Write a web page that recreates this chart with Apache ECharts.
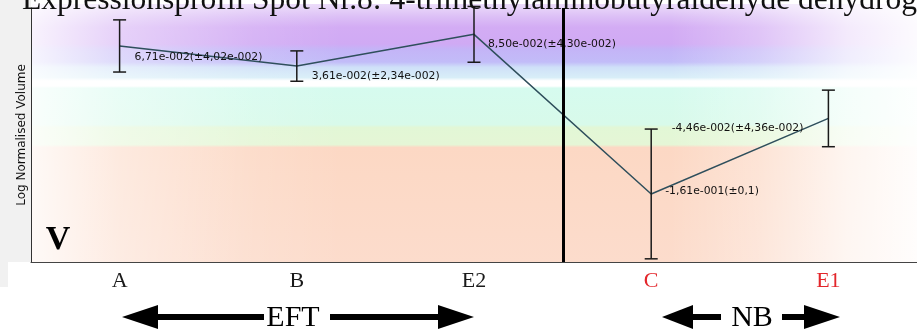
<!DOCTYPE html>
<html>
<head>
<meta charset="utf-8">
<script src="https://cdn.jsdelivr.net/npm/echarts@6/dist/echarts.min.js"></script>
<style>
html,body{margin:0;padding:0;background:#fff;}
#chart{width:917px;height:333px;}
</style>
</head>
<body>
<div id="chart"></div>
<script>
// ---- data ----
const categories = ['A', 'B', 'E2', 'C', 'E1'];
const categoryColors = ['#1a1a1a', '#1a1a1a', '#1a1a1a', '#e3262b', '#e3262b'];
const means = [0.0671, 0.0361, 0.0850, -0.161, -0.0446];
const errors = [0.0402, 0.0234, 0.0430, 0.1, 0.0436];
const valueLabels = ['6,71e-002(±4,02e-002)', '3,61e-002(±2,34e-002)', '8,50e-002(±4,30e-002)', '-1,61e-001(±0,1)', '-4,46e-002(±4,36e-002)'];
const titleText = 'Expressionsprofil Spot Nr.8: 4-trimethylaminobutyraldehyde dehydrogenase';
const yAxisName = 'Log Normalised Volume';
const groupNames = ['EFT', 'NB'];
const panelLetter = 'V';

// ---- layout / style ----
const labelOffsets = [[15, 11, 'left'], [15, 10, 'left'], [14, 10, 'left'], [14, -3, 'left'], [-25, 10, 'right']];
const chart = echarts.init(document.getElementById('chart'), null, {renderer: 'canvas'});

const G_LEFT = 31, G_TOP = 8, G_H = 254, G_W = 897;

function arrow(tipX, baseX, endX, cy) {
  const shaftX = Math.min(baseX, endX);
  const shaftW = Math.abs(endX - baseX);
  return [
    {type: 'polygon', z: 50, shape: {points: [[tipX, cy], [baseX, cy - 12], [baseX, cy + 12]]}, style: {fill: '#000'}},
    {type: 'rect', z: 50, shape: {x: shaftX, y: cy - 3, width: shaftW + 1, height: 6}, style: {fill: '#000'}}
  ];
}

const graphics = [
  // light gray left strip
  {type: 'rect', z: -20, shape: {x: 0, y: 0, width: G_LEFT, height: G_TOP + G_H}, style: {fill: '#f1f1f1'}},
  {type: 'rect', z: -20, shape: {x: 0, y: G_TOP + G_H, width: 8, height: 25}, style: {fill: '#f1f1f1'}},
  // vertical colour bands
  {type: 'rect', z: -15, shape: {x: G_LEFT + 1, y: 4, width: 917 - G_LEFT, height: G_TOP + G_H - 4},
    style: {fill: new echarts.graphic.LinearGradient(0, 0, 0, 1, [
      {offset: 0.00, color: '#ecdcfa'},
      {offset: 0.05, color: '#dcbff6'},
      {offset: 0.09, color: '#d3acf4'},
      {offset: 0.155, color: '#d0aaf4'},
      {offset: 0.175, color: '#c4b4f7'},
      {offset: 0.225, color: '#c2bcf8'},
      {offset: 0.245, color: '#cfe0f8'},
      {offset: 0.285, color: '#d8eef8'},
      {offset: 0.298, color: '#ffffff'},
      {offset: 0.318, color: '#ffffff'},
      {offset: 0.326, color: '#d6fbef'},
      {offset: 0.468, color: '#d8faea'},
      {offset: 0.478, color: '#e2f7d6'},
      {offset: 0.545, color: '#e5f6d6'},
      {offset: 0.556, color: '#fcd8c4'},
      {offset: 1.00, color: '#fcdccc'}
    ])}},
  // horizontal fade to white at both ends
  {type: 'rect', z: -14, shape: {x: G_LEFT + 1, y: 4, width: 917 - G_LEFT, height: G_TOP + G_H - 4},
    style: {fill: new echarts.graphic.LinearGradient(0, 0, 1, 0, [
      {offset: 0.00, color: 'rgba(255,255,255,0.85)'},
      {offset: 0.10, color: 'rgba(255,255,255,0.45)'},
      {offset: 0.25, color: 'rgba(255,255,255,0.12)'},
      {offset: 0.35, color: 'rgba(255,255,255,0.0)'},
      {offset: 0.72, color: 'rgba(255,255,255,0.0)'},
      {offset: 0.82, color: 'rgba(255,255,255,0.3)'},
      {offset: 0.92, color: 'rgba(255,255,255,0.75)'},
      {offset: 1.00, color: 'rgba(255,255,255,0.95)'}
    ])}},
  // title (cut at top)
  {type: 'text', z: 60, x: 22, y: 1, style: {text: titleText, font: '31.5px "Liberation Serif"', fill: '#111', verticalAlign: 'middle'}},
  // thick divider line
  {type: 'rect', z: 100, shape: {x: 562, y: G_TOP, width: 3, height: G_H}, style: {fill: '#000'}},
  // panel letter
  {type: 'text', z: 60, x: 58, y: 240, style: {text: panelLetter, font: 'bold 34px "Liberation Serif"', fill: '#000', align: 'center', verticalAlign: 'middle'}},
  // group labels
  {type: 'text', z: 60, x: 293, y: 318, style: {text: groupNames[0], font: '30px "Liberation Serif"', fill: '#000', align: 'center', verticalAlign: 'middle'}},
  {type: 'text', z: 60, x: 752, y: 318, style: {text: groupNames[1], font: '30px "Liberation Serif"', fill: '#000', align: 'center', verticalAlign: 'middle'}}
].concat(arrow(122, 158, 263, 317), arrow(474, 438, 330, 317), arrow(662, 693, 720, 317), arrow(840, 804, 782, 317));

const option = {
  animation: false,
  backgroundColor: '#fff',
  grid: {left: G_LEFT, top: G_TOP, width: G_W, height: G_H, containLabel: false},
  graphic: {elements: graphics},
  xAxis: {
    type: 'category',
    data: categories,
    boundaryGap: true,
    axisLine: {show: true, onZero: false, lineStyle: {color: '#444', width: 1}},
    axisTick: {show: false},
    splitLine: {show: false},
    axisLabel: {
      margin: 8,
      fontFamily: 'Liberation Serif',
      fontSize: 22,
      color: function (v, i) { return categoryColors[i]; }
    }
  },
  yAxis: {
    type: 'value',
    min: -0.2659,
    max: 0.1256,
    name: yAxisName,
    nameLocation: 'middle',
    nameGap: 3,
    nameTextStyle: {fontFamily: 'DejaVu Sans', fontSize: 12, color: '#111'},
    axisLine: {show: true, onZero: false, lineStyle: {color: '#333', width: 1}},
    axisTick: {show: false},
    axisLabel: {show: false},
    splitLine: {show: false}
  },
  series: [
    {
      type: 'line',
      data: means,
      symbol: 'none',
      z: 3,
      lineStyle: {color: '#2f4f5c', width: 1.5}
    },
    {
      type: 'custom',
      z: 4,
      data: means.map((m, i) => [i, m, m - errors[i], m + errors[i]]),
      renderItem: function (params, api) {
        const i = params.dataIndex;
        const c = api.coord([api.value(0), api.value(1)]);
        const lo = api.coord([api.value(0), api.value(2)]);
        const hi = api.coord([api.value(0), api.value(3)]);
        const hw = 6.5;
        const ls = {stroke: '#1a1a1a', lineWidth: 1.5};
        const off = labelOffsets[i];
        return {
          type: 'group',
          children: [
            {type: 'line', shape: {x1: c[0], y1: hi[1], x2: c[0], y2: lo[1]}, style: ls},
            {type: 'line', shape: {x1: c[0] - hw, y1: hi[1], x2: c[0] + hw, y2: hi[1]}, style: ls},
            {type: 'line', shape: {x1: c[0] - hw, y1: lo[1], x2: c[0] + hw, y2: lo[1]}, style: ls},
            {type: 'text', x: c[0] + off[0], y: c[1] + off[1],
              style: {text: valueLabels[i], font: '10.8px "DejaVu Sans"', fill: '#111', align: off[2], verticalAlign: 'middle'}}
          ]
        };
      }
    }
  ]
};
chart.setOption(option);
</script>
</body>
</html>
